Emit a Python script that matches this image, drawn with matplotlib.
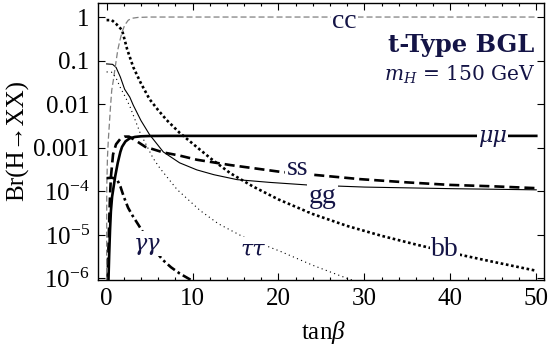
import numpy as np
import matplotlib
matplotlib.use("Agg")
import matplotlib.pyplot as plt
from matplotlib.ticker import MultipleLocator, LogLocator, FixedLocator, NullFormatter

# --- DATA ---
x_bb = [0, 0.6, 1.1, 1.8, 2.4, 3.1, 4.0, 5.0, 6.0, 7.0, 8.5, 10.9, 12.2, 14.4, 17, 20, 24, 28, 32, 36, 40, 45, 50]
y_bb = [0.85, 0.85, 0.7, 0.5, 0.18, 0.071, 0.03, 0.013, 0.0073, 0.0043, 0.0022, 8.9e-4, 5.5e-4, 2.6e-4,
        1.3e-4, 6.5e-5, 3.0e-5, 1.6e-5, 9.5e-6, 6.0e-6, 3.9e-6, 2.4e-6, 1.5e-6]

x_gg = [0, 0.7, 1.1, 1.6, 2.1, 2.7, 3.1, 4.0, 5.0, 6.6, 8.5, 10.5, 12.5, 15.2, 19, 23.3, 30, 40, 50]
y_gg = [0.084, 0.082, 0.07, 0.042, 0.022, 0.0145, 0.0095, 0.0042, 0.002, 8.0e-4, 4.5e-4, 3.1e-4,
        2.4e-4, 1.85e-4, 1.6e-4, 1.4e-4, 1.25e-4, 1.15e-4, 1.08e-4]

x_ss = [0.1, 0.2, 0.3, 0.4, 0.5, 0.75, 1.1, 1.6, 2.1, 2.6, 3.3, 4.5, 6.6, 8.5, 10.5, 14.4, 20.2, 25,
        29.5, 35, 40, 45, 50]
y_ss = [8e-7, 4e-6, 2e-5, 8e-5, 2.1e-4, 7e-4, 1.2e-3, 1.6e-3, 1.8e-3, 1.8e-3, 1.5e-3, 1.05e-3, 7.8e-4,
        6.6e-4, 5.3e-4, 4.0e-4, 2.8e-4, 2.3e-4, 1.9e-4, 1.6e-4, 1.4e-4, 1.3e-4, 1.18e-4]

x_mumu = [0.2, 0.3, 0.4, 0.5, 0.64, 0.8, 1.0, 1.3, 1.6, 1.8, 2.2, 2.7, 3.3, 4.0, 5, 7, 10, 20, 30, 40, 50]
y_mumu = [7e-7, 3.5e-6, 1.3e-5, 3.5e-5, 7.5e-5, 1.2e-4, 2.2e-4, 4.5e-4, 8e-4, 1.05e-3, 1.4e-3, 1.65e-3,
          1.77e-3, 1.83e-3, 1.86e-3, 1.87e-3, 1.87e-3, 1.87e-3, 1.87e-3, 1.87e-3, 1.87e-3]

x_cc = [0.0, 0.02, 0.1, 0.2, 0.3, 0.45, 0.6, 0.79, 1.0, 1.3, 1.55, 1.77, 2.1, 2.53, 3.0, 3.66, 5, 8, 20, 50]
y_cc = [8e-7, 1.2e-4, 6e-4, 1.5e-3, 3e-3, 8.5e-3, 0.021, 0.036, 0.07, 0.175, 0.29, 0.43, 0.65, 0.85,
        0.94, 0.98, 1.0, 1.0, 1.0, 1.0]

x_tautau = [0, 0.6, 1.1, 1.6, 2.15, 2.7, 3.9, 5.4, 6.2, 8.2, 10.9, 13, 15.9, 20.2, 24, 28, 30]
y_tautau = [0.055, 0.054, 0.04, 0.024, 0.015, 9.0e-3, 2.2e-3, 5.8e-4, 3.4e-4, 1.1e-4, 3.6e-5, 1.8e-5,
            9e-6, 4.2e-6, 2.0e-6, 1.0e-6, 7.5e-7]

x_gaga = [0, 0.6, 1.2, 1.6, 2.0, 2.5, 3.0, 3.7, 4.5, 5.5, 6.5, 7.5, 8.5, 9.7, 10.5]
y_gaga = [2.0e-4, 2.05e-4, 1.9e-4, 1.3e-4, 7.5e-5, 4.2e-5, 2.8e-5, 1.7e-5, 9.5e-6, 4.8e-6, 2.7e-6,
          1.8e-6, 1.3e-6, 9.5e-7, 8e-7]

# curve labels: text, x, y
label_text = ["cc", "ss", "gg", "bb", "ττ", "γγ", "μμ"]
label_x = [27.7, 22.2, 25.1, 39.4, 17.0, 4.7, 44.9]
label_y = [0.77, 3.4e-4, 7.4e-5, 4.6e-6, 4.6e-6, 6.3e-6, 1.87e-3]

y_ticks = [1e-6, 1e-5, 1e-4, 1e-3, 1e-2, 1e-1, 1]
y_ticklabels = [r"$10^{-6}$", r"$10^{-5}$", r"$10^{-4}$", "0.001", "0.01", "0.1", "1"]

# --- STYLE ---
plt.rcParams["font.family"] = ["Liberation Serif", "DejaVu Serif"]
plt.rcParams["mathtext.fontset"] = "custom"
plt.rcParams["mathtext.rm"] = "Liberation Serif"
plt.rcParams["mathtext.it"] = "Liberation Serif:italic"
plt.rcParams["mathtext.bf"] = "Liberation Serif:bold"

navy = "#141446"
fig = plt.figure(figsize=(5.5, 3.5), dpi=100)
ax = fig.add_axes([98 / 550, 1 - 280 / 350, 446 / 550, 277 / 350])

thick = 1.9
thin = 0.8
ax.plot(x_bb, y_bb, color="black", lw=thick, linestyle=(0, (1, 1)))
ax.plot(x_gg, y_gg, color="black", lw=thin)
ax.plot(x_ss, y_ss, color="black", lw=thick, linestyle=(0, (3.8, 1.9)))
ax.plot(x_mumu, y_mumu, color="black", lw=thick)
ax.plot(x_cc, y_cc, color="#808080", lw=0.9, linestyle=(0, (4.8, 2.4)))
ax.plot(x_tautau, y_tautau, color="black", lw=thin, linestyle=(0, (1, 3)))
ax.plot(x_gaga, y_gaga, color="black", lw=thick, linestyle=(0, (3.4, 1.3, 1, 1.3)))

for t, lx, ly in zip(label_text, label_x, label_y):
    if t[0] in "τγμ":
        kw = dict(fontsize=16, fontstyle="italic", family="DejaVu Serif")
    else:
        kw = dict(fontsize=20)
    ax.text(lx, ly, t, color=navy, ha="center", va="center",
            bbox=dict(facecolor="white", edgecolor="none", pad=1), **kw)

ax.set_yscale("log")
ax.set_xlim(-1, 50.9)
ax.set_ylim(0.92e-6, 2.1)

ax.xaxis.set_major_locator(MultipleLocator(10))
ax.xaxis.set_minor_locator(MultipleLocator(2))
ax.yaxis.set_major_locator(FixedLocator(y_ticks))
ax.set_yticklabels(y_ticklabels)
ax.yaxis.set_minor_locator(LogLocator(base=10, subs=np.arange(2, 10)))
ax.yaxis.set_minor_formatter(NullFormatter())

ax.tick_params(which="both", direction="in", top=True, right=True, labelsize=18, width=0.8)
ax.tick_params(which="major", length=5, pad=6)
ax.tick_params(which="minor", length=2.5)
for s in ax.spines.values():
    s.set_linewidth(1.0)

ax.text(0.978, 0.823, "t-Type BGL", transform=ax.transAxes, ha="right", va="baseline",
        fontsize=17.5, fontweight="bold", family="DejaVu Serif", color=navy)
ax.text(0.98, 0.718, r"$m_H$ = 150 GeV", transform=ax.transAxes, ha="right", va="baseline",
        fontsize=14.5, family="DejaVu Serif", color=navy, math_fontfamily="dejavuserif")

fig.text(323.5 / 550, 1 - 333 / 350, r"tan$\beta$", fontsize=18, ha="center", va="center")
fig.text(18 / 550, 1 - 141 / 350, "Br(H→XX)", fontsize=18, rotation=90, ha="center", va="center")

fig.savefig("out.png", dpi=100)
